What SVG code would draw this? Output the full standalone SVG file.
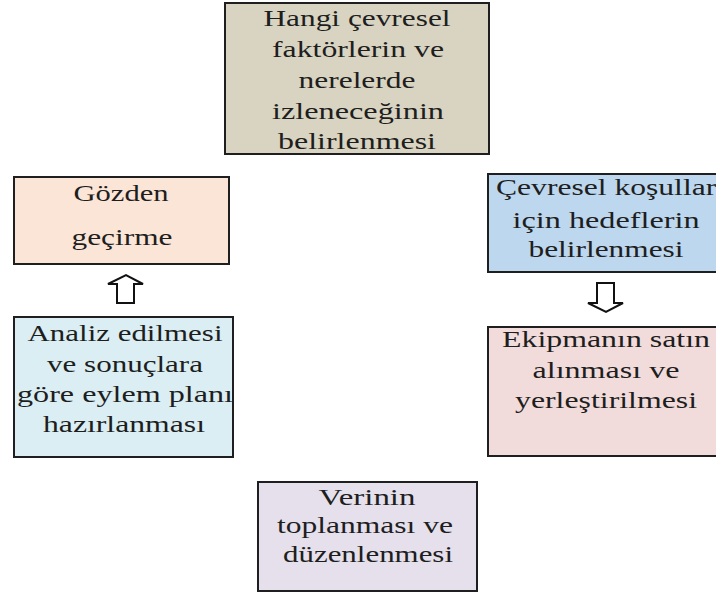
<svg xmlns="http://www.w3.org/2000/svg" width="716" height="593" viewBox="0 0 716 593">
<style>
.box{stroke:#1f1f1f;stroke-width:2}
text{font-family:"Liberation Serif","Times New Roman",serif;font-size:23px;fill:#1e1e1e;text-anchor:middle}
.arrow{fill:#fff;stroke:#111;stroke-width:2;stroke-linejoin:miter}
</style>
<rect width="716" height="593" fill="#fff"/>
<g id="n1">
<rect class="box" x="225" y="3" width="264" height="151" fill="#d9d4c1"/>
<text x="357" y="26" textLength="187" lengthAdjust="spacingAndGlyphs">Hangi çevresel</text>
<text x="358" y="57" textLength="172" lengthAdjust="spacingAndGlyphs">faktörlerin ve</text>
<text x="357" y="88" textLength="117" lengthAdjust="spacingAndGlyphs">nerelerde</text>
<text x="358" y="119" textLength="172" lengthAdjust="spacingAndGlyphs">izleneceğinin</text>
<text x="357" y="149" textLength="158" lengthAdjust="spacingAndGlyphs">belirlenmesi</text>
</g>
<g id="n2">
<rect class="box" x="488" y="174" width="236" height="98" fill="#bdd7ee"/>
<text x="496" y="195" textLength="229" lengthAdjust="spacingAndGlyphs" style="text-anchor:start">Çevresel koşulları</text>
<text x="606" y="228" textLength="187" lengthAdjust="spacingAndGlyphs">için hedeflerin</text>
<text x="606" y="257" textLength="155" lengthAdjust="spacingAndGlyphs">belirlenmesi</text>
</g>
<g id="n3">
<rect class="box" x="488" y="327" width="236" height="129" fill="#f2dcdb"/>
<text x="606" y="347" textLength="208" lengthAdjust="spacingAndGlyphs">Ekipmanın satın</text>
<text x="606" y="378" textLength="147" lengthAdjust="spacingAndGlyphs">alınması ve</text>
<text x="606" y="408" textLength="182" lengthAdjust="spacingAndGlyphs">yerleştirilmesi</text>
</g>
<g id="n4">
<rect class="box" x="258" y="482" width="219" height="109" fill="#e5e0ec"/>
<text x="367" y="505" textLength="97" lengthAdjust="spacingAndGlyphs">Verinin</text>
<text x="365" y="533" textLength="176" lengthAdjust="spacingAndGlyphs">toplanması ve</text>
<text x="368" y="562" textLength="170" lengthAdjust="spacingAndGlyphs">düzenlenmesi</text>
</g>
<g id="n5">
<rect class="box" x="14" y="317" width="219" height="140" fill="#daeef3"/>
<text x="125" y="341" textLength="195" lengthAdjust="spacingAndGlyphs">Analiz edilmesi</text>
<text x="125" y="372" textLength="156" lengthAdjust="spacingAndGlyphs">ve sonuçlara</text>
<text x="125" y="402" textLength="216" lengthAdjust="spacingAndGlyphs">göre eylem planı</text>
<text x="124" y="432" textLength="162" lengthAdjust="spacingAndGlyphs">hazırlanması</text>
</g>
<g id="n6">
<rect class="box" x="14" y="177" width="215" height="87" fill="#fbe5d6"/>
<text x="121" y="201" textLength="95" lengthAdjust="spacingAndGlyphs">Gözden</text>
<text x="122" y="245" textLength="101" lengthAdjust="spacingAndGlyphs">geçirme</text>
</g>
<g id="connectors">
<path class="arrow" d="M597,283 H614 V303 H623 L606,312 L588,303 H597 Z"/>
<path class="arrow" d="M117,303 V284 H108 L126,275 L143,284 H134 V303 Z"/>
</g>
</svg>
